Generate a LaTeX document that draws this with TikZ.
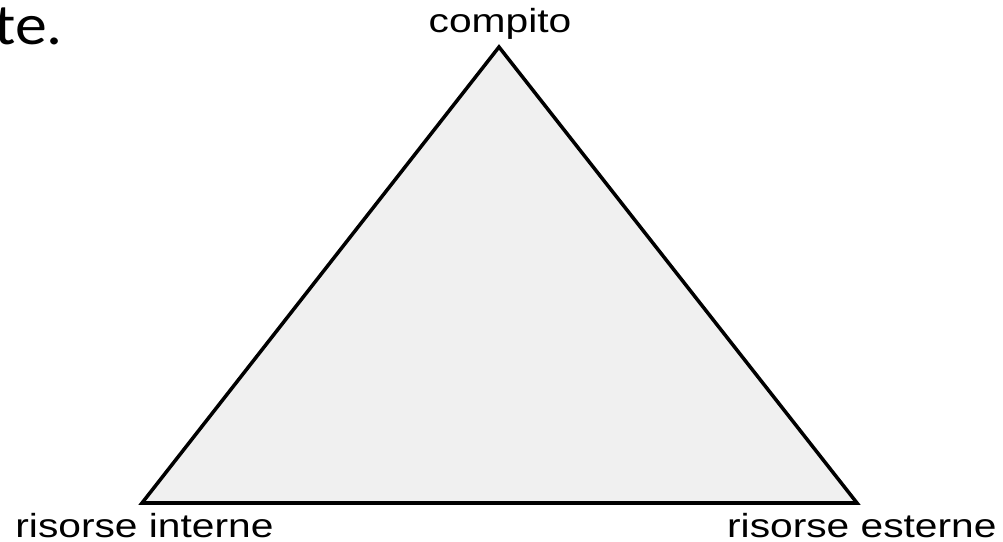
\documentclass[tikz,border=0pt]{standalone}
\usepackage{fontspec}
\setmainfont{Liberation Sans}
\newfontfamily\slidefont{Carlito}
\definecolor{lightgray}{RGB}{240,240,240}
\usetikzlibrary{positioning}

\begin{document}
\begin{tikzpicture}[
        corner/.style={font=\fontsize{19}{22}\selectfont, xscale=1.22, inner sep=0pt},
        triangle/.style={draw=black, fill=lightgray, line width=2pt, line join=miter}
    ]
        \useasboundingbox (0,0) rectangle (20.06,10.82);

        \coordinate (TOP) at (9.98,9.88);
        \coordinate (LEFT) at (2.84,0.76);
        \coordinate (RIGHT) at (17.14,0.76);

        \draw[triangle] (LEFT) -- (TOP) -- (RIGHT) -- cycle;

        \node[corner, anchor=base] (COMPITO) at (10.0,10.16) {compito};
        \node[corner, anchor=base west] (INTERNE) at (0.30,0.08) {risorse interne};
        \node[corner, anchor=base east] (ESTERNE) at (19.94,0.08) {risorse esterne};

        % Slide text, cut at the edge
        \node[font=\slidefont\fontsize{33}{38}\selectfont, xscale=1.1, inner sep=0pt, anchor=base west] (SLIDE) at (-0.12,9.92) {te.};
    \end{tikzpicture}
\end{document}
